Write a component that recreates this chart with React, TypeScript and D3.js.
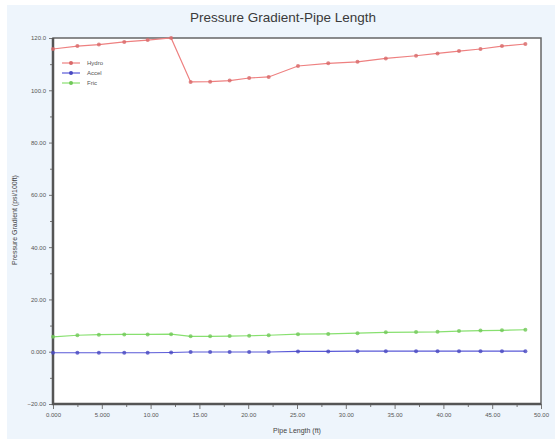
import React, { useEffect, useRef } from 'react';
import * as d3 from 'd3';

// pipe length (ft) of each sample point
const lengths = [0, 2.5, 4.7, 7.3, 9.7, 12.1, 14.1, 16.1, 18.1, 20.1, 22.1, 25.1, 28.2, 31.2, 34.1, 37.2, 39.4, 41.6, 43.8, 46.0, 48.4];

const hydroValues = [115.8, 116.9, 117.5, 118.5, 119.2, 120.0, 103.2, 103.3, 103.7, 104.7, 105.1, 109.3, 110.3, 110.9, 112.2, 113.2, 114.1, 115.0, 115.8, 116.9, 117.7];
const accelValues = [-0.4, -0.4, -0.4, -0.4, -0.4, -0.3, -0.1, -0.1, -0.1, -0.1, -0.1, 0.1, 0.1, 0.2, 0.2, 0.2, 0.2, 0.2, 0.2, 0.2, 0.2];
const fricValues = [5.7, 6.3, 6.5, 6.6, 6.6, 6.7, 5.9, 5.9, 6.0, 6.1, 6.3, 6.7, 6.8, 7.1, 7.4, 7.5, 7.6, 7.9, 8.1, 8.2, 8.4];

const seriesNames = ['Hydro', 'Accel', 'Fric'];
const seriesColors = ['#ee8080', '#5a5ad8', '#88e070'];
const markerColors = ['#d86868', '#4848c0', '#70c858'];

const xTicks = [0, 5, 10, 15, 20, 25, 30, 35, 40, 45, 50];
const yTicks = [-20, 0, 20, 40, 60, 80, 100, 120];

const W = 555;
const H = 439;

const App = () => {
  const svgRef = useRef(null);

  useEffect(() => {
    const svg = d3.select(svgRef.current);
    svg.selectAll('*').remove();

    const margin = { top: 38, right: 14, bottom: 35, left: 53 };
    const width = W - margin.left - margin.right;
    const height = H - margin.top - margin.bottom;
    const fmt = d3.format('.4r');

    // panel background
    svg.append('rect')
      .attr('x', 7).attr('y', 5)
      .attr('width', W - 7).attr('height', H - 5)
      .style('fill', '#eef5fc');

    svg.append('text')
      .attr('x', 283).attr('y', 22)
      .attr('text-anchor', 'middle')
      .style('font-family', 'Arial, "Liberation Sans", sans-serif')
      .style('font-size', '13.5px')
      .style('fill', '#3a3a3a')
      .text('Pressure Gradient-Pipe Length');

    const g = svg.append('g')
      .attr('transform', `translate(${margin.left}, ${margin.top})`);

    g.append('rect')
      .attr('width', width).attr('height', height)
      .style('fill', '#ffffff');

    const xScale = d3.scaleLinear().domain([0, 50]).range([0, width]);
    const yScale = d3.scaleLinear().domain([-20, 120]).range([height, 0]);

    // x axis
    const xAxis = g.append('g')
      .attr('transform', `translate(0, ${height})`)
      .call(d3.axisBottom(xScale).tickValues(xTicks).tickFormat(fmt).tickSize(5).tickPadding(4));
    g.append('g')
      .attr('transform', `translate(0, ${height})`)
      .call(d3.axisBottom(xScale).tickValues(d3.range(2.5, 50, 5)).tickFormat(() => '').tickSize(3))
      .call(a => a.select('.domain').remove());

    // y axis
    const yAxis = g.append('g')
      .call(d3.axisLeft(yScale).tickValues(yTicks).tickFormat(fmt).tickSize(4).tickPadding(3));
    g.append('g')
      .call(d3.axisLeft(yScale).tickValues(d3.range(-10, 120, 20)).tickFormat(() => '').tickSize(3))
      .call(a => a.select('.domain').remove());

    [xAxis, yAxis].forEach(a => {
      a.select('.domain').remove();
      a.selectAll('text')
        .style('font-family', 'Arial, "Liberation Sans", sans-serif')
        .style('font-size', '6px')
        .style('fill', '#555');
    });
    g.selectAll('.tick line').style('stroke', '#777');

    // frame
    g.append('rect')
      .attr('width', width).attr('height', height)
      .style('fill', 'none')
      .style('stroke', '#666')
      .style('stroke-width', 1.5);
    g.append('path')
      .attr('d', `M0,0V${height}H${width}`)
      .style('fill', 'none')
      .style('stroke', '#555')
      .style('stroke-width', 2.5);

    const allSeries = [hydroValues, accelValues, fricValues];
    const line = d3.line<number>()
      .x((d, i) => xScale(lengths[i]))
      .y(d => yScale(d));

    allSeries.forEach((vals, s) => {
      g.append('path')
        .datum(vals)
        .attr('d', line)
        .style('fill', 'none')
        .style('stroke', seriesColors[s])
        .style('stroke-width', 1.2);

      g.selectAll(`.pt${s}`)
        .data(vals)
        .enter().append('circle')
        .attr('class', `pt${s}`)
        .attr('cx', (d, i) => xScale(lengths[i]))
        .attr('cy', d => yScale(d))
        .attr('r', 2)
        .style('fill', markerColors[s])
        .style('opacity', 0.8);
    });

    // legend
    const legend = g.append('g').attr('transform', 'translate(9, 25)');
    seriesNames.forEach((name, s) => {
      const row = legend.append('g').attr('transform', `translate(0, ${s * 10})`);
      row.append('line')
        .attr('x1', 0).attr('x2', 18)
        .style('stroke', seriesColors[s])
        .style('stroke-width', 1.2);
      row.append('circle')
        .attr('cx', 9).attr('r', 2)
        .style('fill', markerColors[s]);
      row.append('text')
        .attr('x', 25).attr('dy', '0.35em')
        .style('font-family', 'Arial, "Liberation Sans", sans-serif')
        .style('font-size', '6px')
        .style('fill', '#555')
        .text(name);
    });

    // axis titles
    svg.append('text')
      .attr('x', margin.left + width / 2).attr('y', 433)
      .attr('text-anchor', 'middle')
      .style('font-family', 'Arial, "Liberation Sans", sans-serif')
      .style('font-size', '7px')
      .style('fill', '#444')
      .text('Pipe Length (ft)');

    svg.append('text')
      .attr('transform', `translate(17, 220) rotate(-90)`)
      .attr('text-anchor', 'middle')
      .style('font-family', 'Arial, "Liberation Sans", sans-serif')
      .style('font-size', '7px')
      .style('fill', '#444')
      .text('Pressure Gradient (psi/100ft)');
  }, []);

  return (
    <svg ref={svgRef} width={W} height={H}
      style={{ position: 'absolute', left: 0, top: 0, display: 'block' }}></svg>
  );
};

export default App;
